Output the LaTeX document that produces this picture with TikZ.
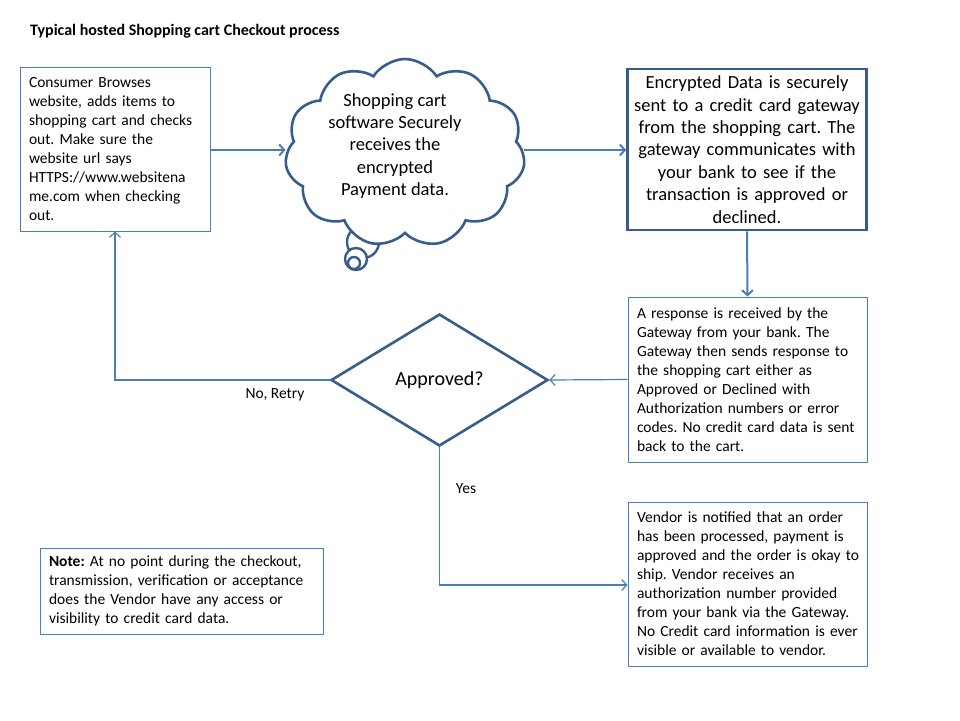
\documentclass[tikz,border=0pt]{standalone}
\usepackage{fontspec}
\setmainfont{Carlito}
\usetikzlibrary{shapes.geometric,shapes.symbols,arrows.meta}
\frenchspacing

\definecolor{shapeline}{HTML}{385D8A}
\definecolor{linkblue}{HTML}{4A7EBB}

\tikzset{
    smalltext/.style={font=\fontsize{15.5}{19}\selectfont},
    bigtext/.style={font=\fontsize{18.5}{22.4}\selectfont},
    textbox/.style={draw=linkblue,line width=1pt,fill=white,smalltext,align=left,
        inner xsep=9pt,inner ysep=0pt,minimum width=239pt,text width=221pt},
    thickbox/.style={draw=shapeline,line width=2.6pt,fill=white,bigtext,align=center,
        inner xsep=2pt,inner ysep=0pt,minimum width=239pt,minimum height=161pt,text width=233pt},
    link/.style={draw=linkblue,line width=2pt,-{Straight Barb[length=5pt,width=11pt]}},
    thinlink/.style={draw=linkblue,line width=1.2pt},
}

\begin{document}
\begin{tikzpicture}[x=1pt,y=-1pt]
    \useasboundingbox[fill=white] (0,0) rectangle (960,720);

    % Title
    \node[font=\fontsize{16}{19}\selectfont\bfseries,anchor=west,inner sep=0pt] (title) at (30,31)
        {Typical hosted Shopping cart Checkout process};

    % Consumer box
    \node[textbox,minimum width=190pt,text width=172pt,minimum height=164pt] (consumer) at (115,149)
        {Consumer Browses\\ website, adds items to\\ shopping cart and checks\\ out. Make sure the\\ website url says\\ HTTPS://www.websitena\\ me.com when checking\\ out.};

    % Thought bubble
    \draw[shapeline,line width=2.4pt,fill=white] (363,242) circle (16);
    \draw[shapeline,line width=2.4pt,fill=white] (356,259) circle (11);
    \draw[shapeline,line width=2.4pt,fill=white] (354,263) circle (6);
    \node[cloud,cloud puffs=11,cloud puff arc=115,cloud ignores aspect,draw=shapeline,line width=2.6pt,
        fill=white,minimum width=240pt,minimum height=188pt] (cart) at (405,153) {};
    \node[bigtext,align=center] (carttext) at (395,146)
        {Shopping cart\\ software Securely\\ receives the\\ encrypted\\ Payment data.};

    % Gateway box
    \node[thickbox] (gateway) at (747,149.5)
        {Encrypted Data is securely\\ sent to a credit card gateway\\ from the shopping cart. The\\ gateway communicates with\\ your bank to see if the\\ transaction is approved or\\ declined.};

    % Response box
    \node[textbox,minimum height=165pt] (response) at (747.5,379.5)
        {A response is received by the\\ Gateway from your bank. The\\ Gateway then sends response to\\ the shopping cart either as\\ Approved or Declined with\\ Authorization numbers or error\\ \mbox{codes. No credit card data is sent}\\ back to the cart.};

    % Decision
    \node[diamond,draw=shapeline,line width=2.6pt,fill=white,inner sep=0pt,
        font=\fontsize{20}{24}\selectfont,minimum width=217pt,minimum height=132pt] (approved) at (439.5,380) {Approved?};

    % Vendor box
    \node[textbox,minimum height=164pt] (vendor) at (747.5,584)
        {Vendor is notified that an order\\ has been processed, payment is\\ \mbox{approved and the order is okay to}\\ ship. Vendor receives an\\ authorization number provided\\ \mbox{from your bank via the Gateway.}\\ \mbox{No Credit card information is ever}\\ visible or available to vendor.};

    % Note box
    \node[textbox,minimum width=283pt,text width=265pt,minimum height=86pt] (note) at (181.5,591)
        {\textbf{Note:} At no point during the checkout,\\ transmission, verification or acceptance\\ does the Vendor have any access or\\ visibility to credit card data.};

    % Connectors
    \draw[link] (consumer.east |- 0,150) -- (cart.west |- 0,150);
    \draw[link] (cart.east |- 0,150) -- (gateway.west |- 0,150);
    \draw[link] (gateway.south) -- (response.north);
    \draw[thinlink,-{Straight Barb[length=5pt,width=11pt]}] (response.west) -- (approved.east);
    \coordinate (retry) at (115,380);
    \draw[thinlink,-{Straight Barb[length=5pt,width=11pt]}] (approved.west) -- (retry) -- (consumer.south);
    \coordinate (yes) at (439.5,585);
    \draw[thinlink,-{Straight Barb[length=5pt,width=11pt]}] (approved.south) -- (yes) -- (vendor.west |- yes);

    % Labels
    \node[smalltext] (nolabel) at (275,395) {No, Retry};
    \node[smalltext] (yeslabel) at (466,489) {Yes};
\end{tikzpicture}
\end{document}
